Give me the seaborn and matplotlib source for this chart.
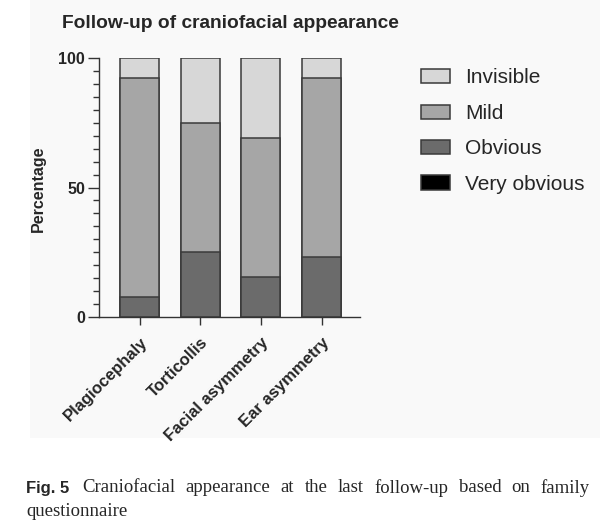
import numpy as np
import pandas as pd
import seaborn as sns
import matplotlib.pyplot as plt
from matplotlib.patches import Patch, Rectangle
from matplotlib.ticker import MultipleLocator

# data (percent of patients per grade)
categories = ["Plagiocephaly", "Torticollis", "Facial asymmetry", "Ear asymmetry"]
very_obvious = [0.0, 0.0, 0.0, 0.0]
obvious = [7.7, 25.0, 15.4, 23.1]
mild = [84.6, 50.0, 53.8, 69.2]
invisible = [7.7, 25.0, 30.8, 7.7]

levels = ["Invisible", "Mild", "Obvious", "Very obvious"]
colors = {"Invisible": "#d7d7d7", "Mild": "#a6a6a6", "Obvious": "#6b6b6b", "Very obvious": "#000000"}

df = pd.DataFrame({
    "category": categories,
    "Very obvious": very_obvious,
    "Obvious": obvious,
    "Mild": mild,
    "Invisible": invisible,
})
# cumulative heights, bottom level first
stack_order = ["Very obvious", "Obvious", "Mild", "Invisible"]
cum = df[stack_order].cumsum(axis=1)

sns.set_style("ticks")
plt.rcParams['font.family'] = ['Liberation Sans', 'DejaVu Sans']

W, H = 600, 525
fig = plt.figure(figsize=(6, 5.25), dpi=100)
# faint grey panel behind the chart, like the scanned figure
fig.patches.append(Rectangle((30 / W, 1 - 438 / H), 1, 438 / H, transform=fig.transFigure,
                             facecolor="#f9f9f9", edgecolor="none", zorder=-10))

ax = fig.add_axes([99 / W, 1 - 316.7 / H, (360 - 99) / W, (316.7 - 58.3) / H])
ax.set_facecolor("none")

# draw the top layer first so the lower layers sit over it
for lvl in ["Invisible", "Mild", "Obvious", "Very obvious"]:
    heights = cum[lvl]
    if heights.max() == 0:
        continue
    sns.barplot(x=df["category"], y=heights, color=colors[lvl], width=0.643,
                edgecolor="#3a3a3a", linewidth=1.1, saturation=1, ax=ax)

ax.set_xlim(-0.668, 3.634)
ax.set_ylim(0, 100)
ax.set_xlabel("")
ax.set_ylabel("")
ax.set_yticks([0, 50, 100])
ax.yaxis.set_minor_locator(MultipleLocator(5))
ax.set_yticklabels(["0", "50", "100"], fontsize=11.5, fontweight="bold")
ax.tick_params(axis="y", which="major", length=8, width=1, color="#333333", pad=2)
ax.tick_params(axis="y", which="minor", length=4, width=1, color="#333333")
ax.tick_params(axis="x", which="major", length=6, width=1, color="#333333", pad=7)
ax.set_xticks(range(len(categories)))
ax.set_xticklabels(categories, rotation=45, ha="right", rotation_mode="anchor",
                   fontsize=12, fontweight="bold")
for s in ["top", "right"]:
    ax.spines[s].set_visible(False)
for s in ["left", "bottom"]:
    ax.spines[s].set_linewidth(1)
    ax.spines[s].set_color("#333333")

fig.text(62 / W, 1 - 23 / H, "Follow-up of craniofacial appearance", fontsize=13.8,
         fontweight="bold", ha="left", va="center")
fig.text(38 / W, 1 - 189 / H, "Percentage", fontsize=11.5, fontweight="bold",
         rotation=90, ha="center", va="center")

handles = [Patch(facecolor=colors[l], edgecolor="#3a3a3a", linewidth=1.1) for l in levels]
fig.legend(handles, levels, loc="upper left", bbox_to_anchor=(421 / W, 1 - 68.5 / H),
           frameon=False, fontsize=15, borderpad=0, borderaxespad=0,
           handlelength=1.4, handleheight=0.67, handletextpad=0.72, labelspacing=0.79)

# caption, first line justified between the margins
renderer = fig.canvas.get_renderer()
fig.text(26 / W, 1 - 488 / H, "Fig. 5", fontsize=12, fontweight="bold",
         ha="left", va="center")
words = "Craniofacial appearance at the last follow-up based on family".split()
txts = [fig.text(0, 1 - 488 / H, w, fontsize=13.5, family="Liberation Serif", va="center")
        for w in words]
widths = [t.get_window_extent(renderer).width for t in txts]
x0, x1 = 82, 590
gap = (x1 - x0 - sum(widths)) / (len(words) - 1)
x = x0
for t, w in zip(txts, widths):
    t.set_x(x / W)
    x += w + gap
fig.text(26 / W, 1 - 512 / H, "questionnaire", fontsize=13.5, family="Liberation Serif",
         ha="left", va="center")

fig.savefig("out.png", dpi=100)
